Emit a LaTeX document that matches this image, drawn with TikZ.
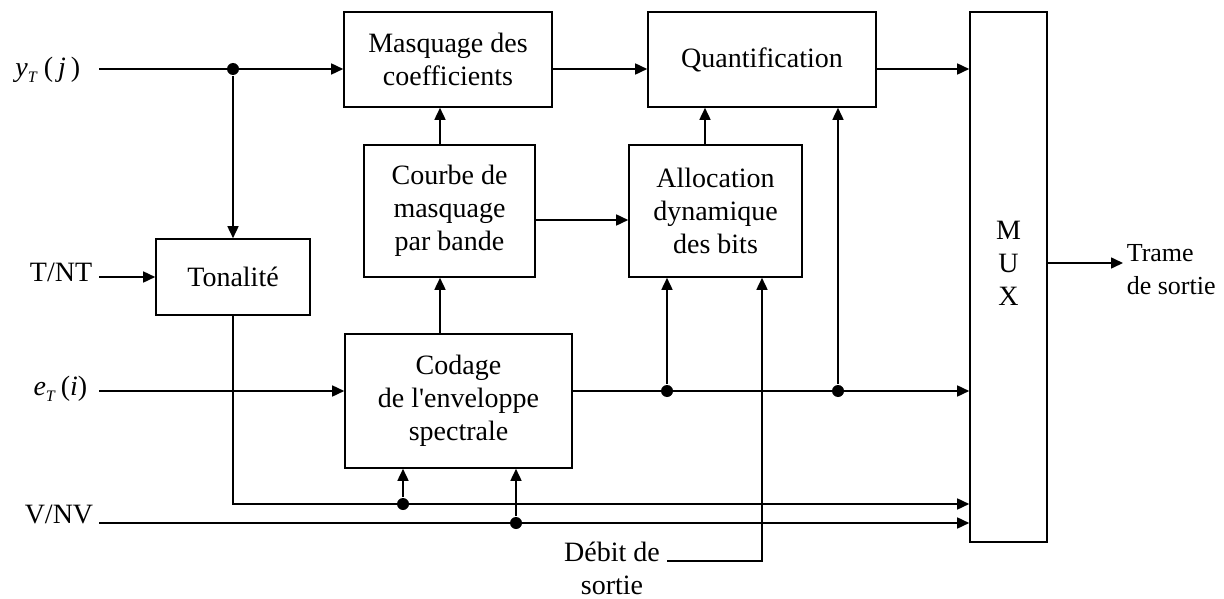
\documentclass[tikz,border=0pt]{standalone}
\usepackage{fontspec}
\setmainfont{Liberation Serif}
\usetikzlibrary{arrows.meta, positioning}

\begin{document}
\begin{tikzpicture}[x=1pt, y=-1pt, line width=1.6pt, font=\fontsize{28}{33}\selectfont, >={Triangle[length=12pt, width=11pt]}, box/.style={draw, align=center, inner sep=2pt}, dot/.style={circle, fill, inner sep=0pt, minimum size=12pt}, lab/.style={inner sep=0pt}]
\useasboundingbox (0,0) rectangle (1224,599);
\node[box, minimum width=208pt, minimum height=95pt] (masq) at (448,59.5) {Masquage des\\coefficients};
\node[box, minimum width=228pt, minimum height=95pt] (quant) at (762,59.5) {Quantification};
\node[box, minimum width=77pt, minimum height=530pt] (mux) at (1008.5,277) {};
\node[lab, align=center] (muxlab) at ([yshift=14pt]mux.center) {M\\U\\X};
\node[box, minimum width=171pt, minimum height=132pt] (courbe) at (449.5,211) {Courbe de\\masquage\\par bande};
\node[box, minimum width=173pt, minimum height=132pt] (alloc) at (715.5,211) {Allocation\\dynamique\\des bits};
\node[box, minimum width=154pt, minimum height=76pt] (ton) at (233,277) {Tonalité};
\node[box, minimum width=227pt, minimum height=134pt] (codage) at (458.5,401) {Codage\\de l\textquotesingle enveloppe\\spectrale};
% entrees
\node[lab, anchor=east] (yT) at (81,70) {\textit{y}\raisebox{-6pt}{\fontsize{16}{16}\selectfont\textit{T}}\hspace{6pt}(\hspace{5pt}\textit{j}\hspace{5pt})};
\coordinate (yin) at (99,69);
\node[lab, anchor=east] (tnt) at (93,272) {T/NT};
\coordinate (tin) at (99,277);
\node[lab, anchor=east] (eT) at (88,389) {\textit{e}\raisebox{-6pt}{\fontsize{16}{16}\selectfont\textit{T}}\hspace{5pt}(\textit{i})};
\coordinate (ein) at (99,391);
\node[lab, anchor=base east] (vnv) at (94,523) {V/NV};
\coordinate (vin) at (99,523);
\node[lab, align=center] (debit) at (612,568) {Débit de\\sortie};
\coordinate (dstart) at (667,561);
\node[lab, inner xsep=3pt, anchor=west, align=left, font=\fontsize{26}{33}\selectfont] (trame) at (1123,270) {Trame\\de sortie};
% points de jonction
\node[dot] (d1) at (yin -| ton.north) {};
\node[dot] (d2) at (667,391) {};
\node[dot] (d3) at (838,391) {};
\node[dot] (d4) at (403,504) {};
\node[dot] (d5) at (516,523) {};
% liaisons
\draw[->] (yin) -- (yin -| masq.west);
\draw[->] (d1) -- (ton.north);
\draw[->] (yin -| masq.east) -- (yin -| quant.west);
\draw[->] (yin -| quant.east) -- (yin -| mux.west);
\draw[->] (tin) -- (ton.west);
\draw[->] ([xshift=-9.5pt]courbe.north) -- ([xshift=-9.5pt]courbe.north |- masq.south);
\draw[->] ([xshift=-18.5pt]codage.north) -- ([xshift=-18.5pt]codage.north |- courbe.south);
\draw[->] ([yshift=-9pt]courbe.east) -- ([yshift=-9pt]courbe.east -| alloc.west);
\draw[->] ([xshift=-10.5pt]alloc.north) -- ([xshift=-10.5pt]alloc.north |- quant.south);
\draw[->] (ein) -- (ein -| codage.west);
\draw[->] (ein -| codage.east) -- (ein -| mux.west);
\draw[->] (d2) -- (d2 |- alloc.south);
\draw[->] (d3) -- (d3 |- quant.south);
\draw[->] (ton.south) |- (d4 -| mux.west);
\draw[->] (d4) -- (d4 |- codage.south);
\draw[->] (vin) -- (vin -| mux.west);
\draw[->] (d5) -- (d5 |- codage.south);
\draw[->] (dstart) -| ([xshift=46.5pt]alloc.south);
\draw[->] ([yshift=14pt]mux.east) -- ([yshift=14pt]mux.east -| trame.west);
\end{tikzpicture}
\end{document}
